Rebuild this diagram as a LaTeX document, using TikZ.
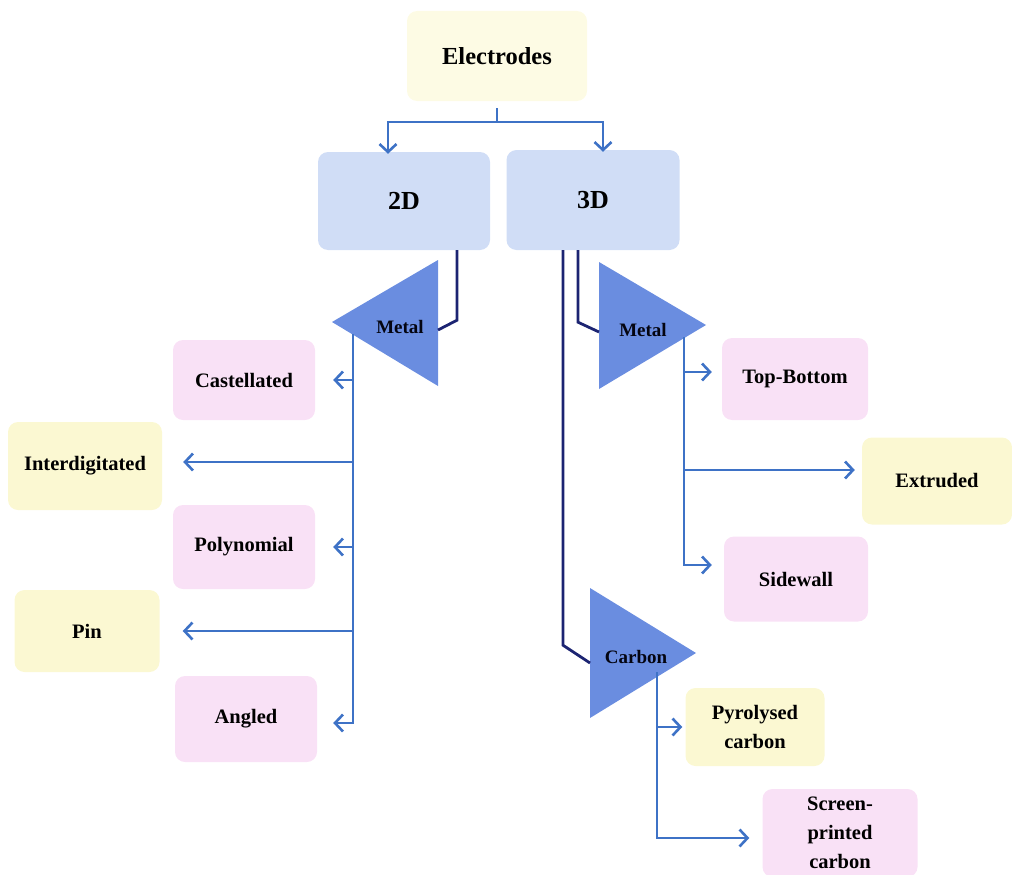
\documentclass[tikz,border=0pt]{standalone}
\usepackage{fontspec}
\setmainfont{Liberation Serif}
\usetikzlibrary{arrows.meta,calc}
\definecolor{pinkc}{HTML}{F9E1F6}
\definecolor{yelc}{HTML}{FBF8D2}
\definecolor{elyc}{HTML}{FDFBE4}
\definecolor{bluec}{HTML}{D0DDF6}
\definecolor{tric}{HTML}{6A8DE0}
\definecolor{connc}{HTML}{3E72C6}
\definecolor{darkc}{HTML}{1C2472}
\tikzset{
  box/.style={rounded corners=10pt, inner sep=0pt, align=center, font=\bfseries\fontsize{20.5}{29}\selectfont},
  pinkbox/.style={box, fill=pinkc},
  yelbox/.style={box, fill=yelc},
  bluebox/.style={box, fill=bluec, font=\bfseries\fontsize{26}{30}\selectfont},
  trilabel/.style={font=\bfseries\fontsize{19}{22}\selectfont, text=black!85!darkc},
  conn/.style={draw=connc, line width=2.6pt},
  arr/.style={conn, -{Straight Barb[length=8pt,width=17pt,line width=2.6pt]}},
  darkline/.style={draw=darkc, line width=2.8pt}
}
\begin{document}
\begin{tikzpicture}[x=1pt,y=-1pt]
\useasboundingbox (0,0) rectangle (1012,875);
% top
\node[box, fill=elyc, minimum width=180pt, minimum height=90pt, font=\bfseries\fontsize{24.5}{28}\selectfont] (el) at (497,56) {Electrodes};
\node[bluebox, minimum width=172pt, minimum height=98pt] (d2) at (404,201) {2D};
\node[bluebox, minimum width=173pt, minimum height=100pt] (d3) at (593,200) {3D};
\coordinate (split) at (497,122);
\draw[conn] ([yshift=-7pt]el.south) -- (split);
\draw[arr] (split) -| ([xshift=-16pt,yshift=-2pt]d2.north);
\draw[arr] (split) -| ([xshift=10pt,yshift=-2pt]d3.north);

% left metal triangle
\coordinate (lmTip) at (332,322);
\coordinate (lmTop) at (438,260);
\coordinate (lmBot) at (438,386);
\fill[tric] (lmTip) -- (lmTop) -- (lmBot) -- cycle;
\node[trilabel] (lm) at (400,327) {Metal};
\coordinate (lmIn) at (438,330);
\draw[darkline] ([xshift=53pt]d2.south) -- ++(0,70) -- (lmIn);
\coordinate (lspine) at (353,334);

% left boxes
\node[pinkbox, minimum width=142pt, minimum height=80pt] (cast) at (244,380) {Castellated};
\node[yelbox, minimum width=154pt, minimum height=88pt] (inter) at (85,466) {Interdigitated};
\node[pinkbox, minimum width=142pt, minimum height=84pt] (poly) at (244,547) {Polynomial};
\node[yelbox, minimum width=145pt, minimum height=82pt] (pin) at (87,631) {Pin};
\node[pinkbox, minimum width=142pt, minimum height=86pt] (ang) at (246,719) {Angled};

\draw[conn] (lspine) -- (lspine |- ang);
\draw[arr] (lspine |- cast) -- ([xshift=18pt]cast.east);
\draw[arr] (lspine |- 0,462) -- ([xshift=21pt]inter.east |- 0,462);
\draw[arr] (lspine |- poly) -- ([xshift=18pt]poly.east);
\draw[arr] (lspine |- pin) -- ([xshift=23pt]pin.east);
\draw[arr] (lspine) |- ([xshift=16pt,yshift=-4pt]ang.east);

% right metal triangle
\coordinate (rmTop) at (599,262);
\coordinate (rmBot) at (599,389);
\coordinate (rmTip) at (706,325);
\fill[tric] (rmTop) -- (rmTip) -- (rmBot) -- cycle;
\node[trilabel] (rm) at (643,330) {Metal};
\coordinate (rmIn) at (599,332);
\draw[darkline] ([xshift=-15pt]d3.south) -- ++(0,72) -- (rmIn);

% carbon triangle
\coordinate (cTop) at (590,588);
\coordinate (cBot) at (590,718);
\coordinate (cTip) at (696,653);
\fill[tric] (cTop) -- (cTip) -- (cBot) -- cycle;
\node[trilabel] (cb) at (636,657) {Carbon};
\coordinate (cIn) at (590,663);
\draw[darkline] ([xshift=-30pt]d3.south) -- ++(0,395) -- (cIn);

% right boxes
\node[pinkbox, minimum width=146pt, minimum height=82pt] (tb) at (795,379) {Top-Bottom};
\node[yelbox, minimum width=150pt, minimum height=87pt] (ext) at (937,481) {Extruded};
\node[pinkbox, minimum width=144pt, minimum height=85pt] (side) at (796,579) {Sidewall};
\node[yelbox, minimum width=139pt, minimum height=78pt] (pyro) at (755,727) {Pyrolysed\\carbon};
\node[pinkbox, minimum width=155pt, minimum height=88pt] (scr) at (840,833) {Screen-\\printed\\carbon};

\coordinate (rspine) at (684,337);
\draw[conn] (rspine) -- (rspine |- 0,565);
\draw[arr] (rspine |- 0,372) -- ([xshift=-10pt]tb.west |- 0,372);
\draw[arr] (rspine |- 0,470) -- ([xshift=-7pt]ext.west |- 0,470);
\draw[arr] (rspine) |- ([xshift=-12pt]side.west |- 0,565);

\coordinate (cspine) at (657,672);
\draw[arr] (cspine |- 0,727) -- ([xshift=-3pt]pyro.west |- 0,727);
\draw[arr] (cspine) |- ([xshift=-13pt]scr.west |- 0,838);
\end{tikzpicture}
\end{document}
